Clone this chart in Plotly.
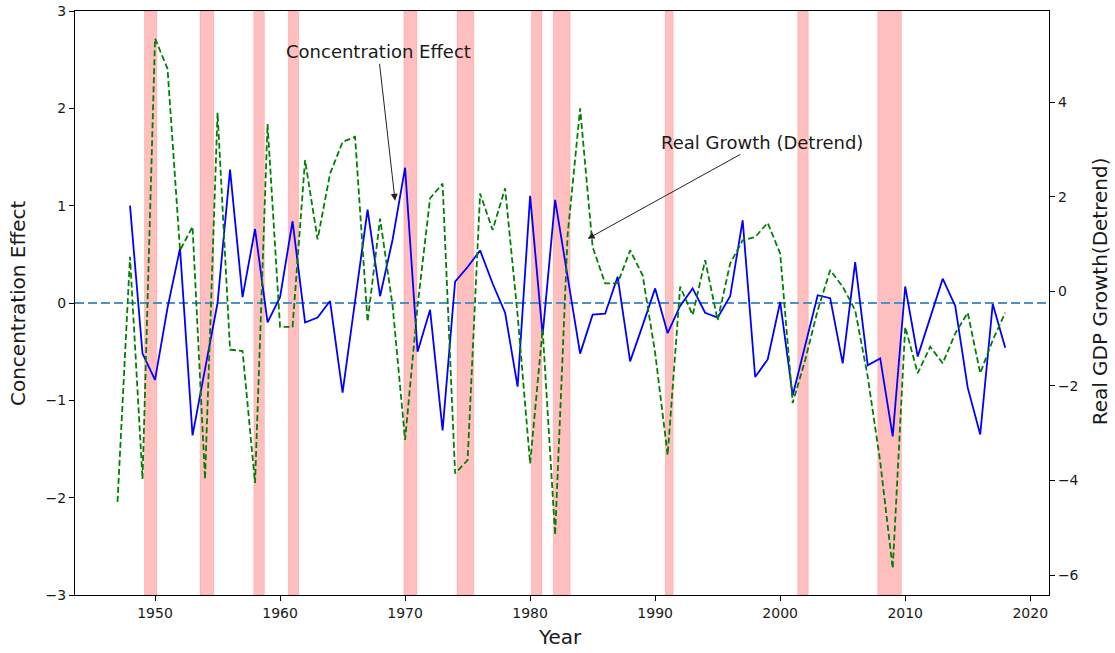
import plotly.graph_objects as go

# ---- data ----
conc_years = list(range(1948, 2019))
conc_effect = [1.0, -0.52, -0.79, -0.05, 0.56, -1.36, -0.68, 0.0, 1.37, 0.06,
               0.76, -0.2, 0.06, 0.84, -0.2, -0.15, 0.02, -0.92, 0.02, 0.96,
               0.07, 0.65, 1.39, -0.5, -0.07, -1.31, 0.22, 0.37, 0.54, 0.2,
               -0.1, -0.86, 1.1, -0.33, 1.06, 0.28, -0.52, -0.12, -0.11, 0.27,
               -0.6, -0.23, 0.15, -0.31, -0.03, 0.15, -0.1, -0.15, 0.07, 0.85,
               -0.76, -0.58, 0.01, -0.95, -0.43, 0.08, 0.05, -0.62, 0.42, -0.64,
               -0.57, -1.37, 0.17, -0.55, -0.15, 0.25, -0.03, -0.87, -1.35, -0.01,
               -0.46]

gdp_years = list(range(1947, 2019))
gdp_growth = [-4.45, 0.73, -3.97, 5.35, 4.71, 0.87, 1.37, -3.97, 3.78, -1.23,
              -1.26, -4.05, 3.54, -0.75, -0.75, 2.78, 1.10, 2.49, 3.16, 3.27,
              -0.64, 1.54, -0.3, -3.14, -0.3, 1.97, 2.28, -3.85, -3.57, 2.07,
              1.30, 2.18, -0.5, -3.64, -0.8, -5.15, 1.2, 3.87, 0.94, 0.17,
              0.17, 0.87, 0.34, -1.3, -3.46, 0.1, -0.5, 0.66, -0.61, 0.59,
              1.08, 1.15, 1.45, 0.8, -2.36, -1.45, -0.4, 0.45, 0.1, -0.4,
              -1.8, -3.6, -5.86, -0.75, -1.73, -1.17, -1.52, -0.89, -0.45, -1.73,
              -1.03, -0.45]

rec_start = [1949.15, 1953.6, 1957.9, 1960.65, 1969.9, 1974.15, 1980.1, 1981.85,
             1990.8, 2001.4, 2007.8]
rec_end = [1950.15, 1954.7, 1958.75, 1961.5, 1970.95, 1975.5, 1980.95, 1983.2,
           1991.45, 2002.25, 2009.7]

x_ticks = [1950, 1960, 1970, 1980, 1990, 2000, 2010, 2020]
y_ticks = [-3, -2, -1, 0, 1, 2, 3]
y2_ticks = [-6, -4, -2, 0, 2, 4]

FONT = "DejaVu Sans"
TXT = "#1a1a1a"

fig = go.Figure()

fig.add_trace(go.Scatter(x=conc_years, y=conc_effect, mode="lines",
                         line=dict(color="#0000ff", width=1.8),
                         name="Concentration Effect", yaxis="y"))
fig.add_trace(go.Scatter(x=gdp_years, y=gdp_growth, mode="lines",
                         line=dict(color="#008000", width=1.8, dash="6px,3px"),
                         name="Real Growth (Detrend)", yaxis="y2"))

shapes = []
for s, e in zip(rec_start, rec_end):
    shapes.append(dict(type="rect", xref="x", yref="paper", x0=s, x1=e, y0=0, y1=1,
                       fillcolor="rgba(255,0,0,0.25)",
                       line=dict(width=1, color="rgba(255,0,0,0.12)"),
                       layer="below"))
shapes.append(dict(type="line", xref="paper", yref="y", x0=0, x1=1, y0=0, y1=0,
                   line=dict(color="#4a90c9", width=2, dash="9px,4px"),
                   layer="below"))

annotations = [
    dict(text="Concentration Effect", x=1969.2, y=1.05, xref="x", yref="y",
         ax=1967.85, ay=2.58, axref="x", ayref="y",
         showarrow=True, arrowhead=2, arrowsize=1.4, arrowwidth=1,
         arrowcolor="#222222", font=dict(family=FONT, size=18, color=TXT)),
    dict(text="Real Growth (Detrend)", x=1984.6, y=0.66, xref="x", yref="y",
         ax=1998.55, ay=1.65, axref="x", ayref="y",
         showarrow=True, arrowhead=2, arrowsize=1.4, arrowwidth=1,
         arrowcolor="#222222", font=dict(family=FONT, size=18, color=TXT)),
    dict(text="Concentration Effect", xref="paper", yref="paper",
         x=-0.0585, y=0.5, textangle=-90, showarrow=False,
         xanchor="center", yanchor="middle",
         font=dict(family=FONT, size=20, color=TXT)),
    dict(text="Real GDP Growth(Detrend)", xref="paper", yref="paper",
         x=1.0524, y=0.52, textangle=-90, showarrow=False,
         xanchor="center", yanchor="middle",
         font=dict(family=FONT, size=20, color=TXT)),
    dict(text="Year", xref="paper", yref="paper",
         x=0.498, y=-0.072, showarrow=False,
         xanchor="center", yanchor="middle",
         font=dict(family=FONT, size=20, color=TXT)),
]

fig.update_layout(
    width=1115, height=653, autosize=False,
    margin=dict(l=75, r=66, t=11, b=58),
    plot_bgcolor="white", paper_bgcolor="white",
    showlegend=False,
    font=dict(family=FONT, size=14, color=TXT),
    shapes=shapes, annotations=annotations,
    xaxis=dict(range=[1943.6, 2021.5], tickvals=x_ticks, ticks="outside",
               ticklen=5, tickcolor="black", showline=True, linecolor="black",
               linewidth=1.2, mirror=True, showgrid=False, zeroline=False,
               automargin=False,
               tickfont=dict(family=FONT, size=14, color=TXT)),
    yaxis=dict(range=[-3, 3], tickvals=y_ticks, ticks="outside", ticklen=5,
               tickcolor="black", showline=True, linecolor="black", linewidth=1.2,
               showgrid=False, zeroline=False, automargin=False,
               tickfont=dict(family=FONT, size=14, color=TXT)),
    yaxis2=dict(range=[-6.42, 5.93], tickvals=y2_ticks, overlaying="y", side="right",
                ticks="outside", ticklen=5, tickcolor="black", showline=True,
                linecolor="black", linewidth=1.2, showgrid=False, zeroline=False,
                automargin=False,
                tickfont=dict(family=FONT, size=14, color=TXT)),
)

fig.write_html("out.html")
